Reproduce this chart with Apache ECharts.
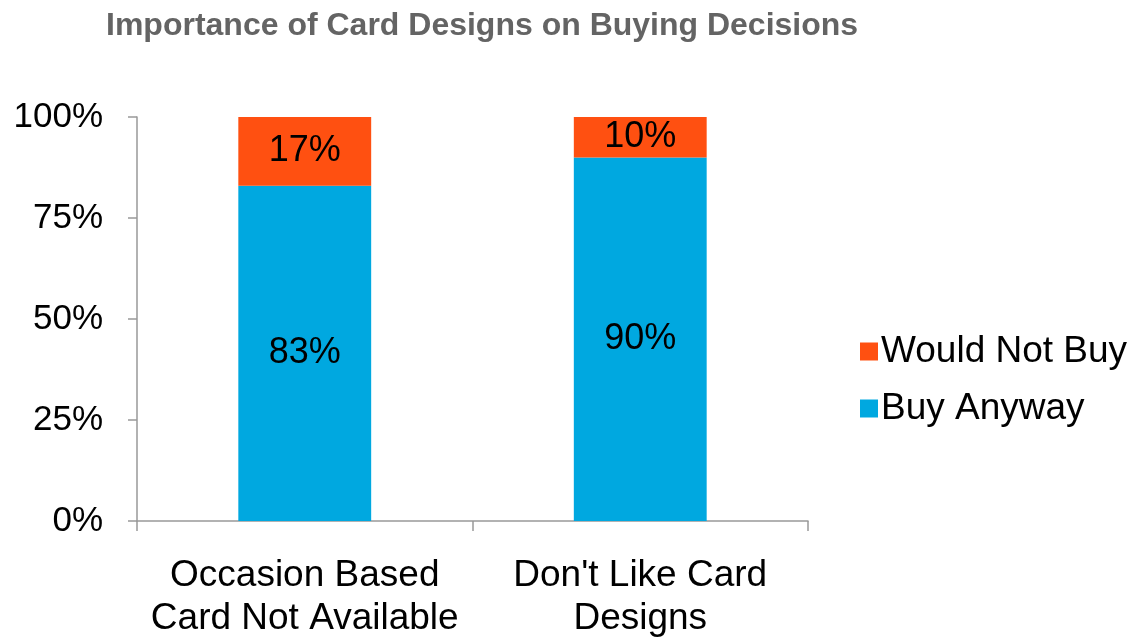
<!DOCTYPE html>
<html>
<head>
<meta charset="utf-8">
<script src="https://cdn.jsdelivr.net/npm/echarts@6/dist/echarts.min.js"></script>
<style>
  html, body { margin: 0; padding: 0; background: #fff; }
  #chart { width: 1128px; height: 640px; }
</style>
</head>
<body>
<div id="chart"></div>
<script>
// Survey answers per reason, in percent of respondents
const categories = ['Occasion Based\nCard Not Available', "Don't Like Card\nDesigns"];
const buyAnyway = [83, 90];
const wouldNotBuy = [17, 10];
const yTicks = [0, 25, 50, 75, 100];

const FONT = '"Liberation Sans", Arial, sans-serif';
const chart = echarts.init(document.getElementById('chart'));

const segLabel = {
  show: true,
  position: 'inside',
  color: '#000',
  fontFamily: FONT,
  fontSize: 36,
  formatter: p => p.value + '%'
};

chart.setOption({
  animation: false,
  title: {
    text: 'Importance of Card Designs on Buying Decisions',
    left: 101,
    top: 5,
    textStyle: { fontFamily: FONT, fontSize: 32, fontWeight: 'bold', color: '#646464' }
  },
  legend: {
    orient: 'vertical',
    left: 855,
    top: 328,
    data: ['Would Not Buy', 'Buy Anyway'],
    itemWidth: 18,
    itemHeight: 18,
    itemGap: 20,
    icon: 'rect',
    textStyle: { fontFamily: FONT, fontSize: 37, color: '#000', padding: [0, 0, 0, -2] }
  },
  grid: { left: 137, right: 320, top: 117, bottom: 116, containLabel: false },
  xAxis: {
    type: 'category',
    data: categories,
    axisLine: { lineStyle: { color: '#999', width: 1.5 } },
    axisTick: { show: true, length: 10, lineStyle: { color: '#999', width: 1.5 } },
    axisLabel: {
      interval: 0,
      margin: 33,
      fontFamily: FONT, fontSize: 37, color: '#000', lineHeight: 43
    }
  },
  yAxis: {
    type: 'value',
    min: yTicks[0],
    max: yTicks[yTicks.length - 1],
    interval: 25,
    axisLine: { show: true, lineStyle: { color: '#999', width: 1.5 } },
    axisTick: { show: true, length: 9, lineStyle: { color: '#999', width: 1.5 } },
    splitLine: { show: false },
    axisLabel: {
      margin: 34,
      fontFamily: FONT, fontSize: 35, color: '#000',
      formatter: v => v + '%'
    }
  },
  series: [
    {
      name: 'Buy Anyway',
      type: 'bar',
      stack: 'total',
      data: buyAnyway,
      barWidth: '39.6%',
      itemStyle: { color: '#00A8E0' },
      label: segLabel
    },
    {
      name: 'Would Not Buy',
      type: 'bar',
      stack: 'total',
      data: wouldNotBuy,
      barWidth: '39.6%',
      itemStyle: { color: '#FF5011' },
      label: segLabel
    }
  ]
});
</script>
</body>
</html>
